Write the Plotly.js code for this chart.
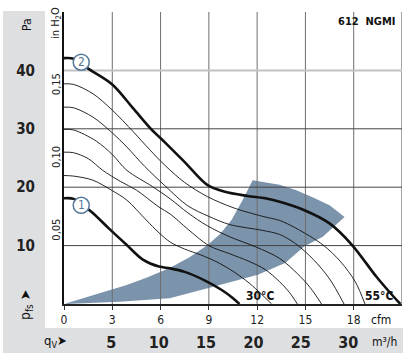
<!DOCTYPE html>
<html><head><meta charset="utf-8">
<script src="https://cdn.plot.ly/plotly-3.0.1.min.js"></script>
<style>html,body{margin:0;padding:0;background:#fff}#chart{width:415px;height:364px}</style>
</head><body><div id="chart"></div>
<script>
// ---- axis ticks / labels ----
const cfmTicks = [0, 3, 6, 9, 12, 15, 18];
const cfmTickLabels = ['0', '3', '6', '9', '12', '15', '18'];
const m3hTicks = [5, 10, 15, 20, 25, 30];
const m3hTickLabels = ['5', '10', '15', '20', '25', '30'];
const paTicks = [10, 20, 30, 40];
const paTickLabels = ['10', '20', '30', '40'];
const inh2oTicks = [0.05, 0.10, 0.15];
const inh2oTickLabels = ['0,05', '0,10', '0,15'];
const gridCfm = [3, 6, 9, 12, 15, 18];
const gridPaDark = [10, 20, 30];
const gridPaLight = [40];
const CFM_TO_M3H = 1.69901;
const PA_PER_INH2O = 249.089;
const xMax = 21, yMax = 50;

// ---- characteristic curves (cfm, Pa) ----
const curve2X = [0, 0.6, 1.5, 3.0, 4.3, 5.4, 6.3, 7.5, 8.9, 10.0, 11.4, 12.5, 13.4, 14.9, 16.5, 17.9, 19.4, 20.3, 20.9];
const curve2Y = [42.1, 42.0, 40.3, 37.6, 33.5, 30.0, 27.6, 24.3, 20.4, 19.2, 18.5, 18.1, 17.5, 16.1, 13.8, 10.1, 4.7, 1.8, 0];
const curve1X = [0, 0.6, 1.7, 2.8, 3.9, 4.9, 5.9, 6.6, 7.5, 8.7, 9.8, 10.5, 10.9];
const curve1Y = [18.1, 18.0, 15.8, 12.9, 10.1, 7.6, 6.4, 6.1, 5.5, 4.1, 2.4, 1.0, 0];
const thin5X = [0, 0.6, 1.8, 3.0, 4.3, 5.3, 6.25, 7.5, 8.9, 10.5, 12.35, 13.4, 14.4, 16.1, 17.2, 18.1, 18.7];
const thin5Y = [37.7, 37.6, 36.0, 33.2, 29.5, 26.5, 23.8, 20.8, 18.4, 16.5, 15.0, 14.3, 13.0, 10.1, 7.2, 3.8, 0];
const thin4X = [0, 0.6, 1.8, 3.0, 3.9, 5.0, 6.25, 7.7, 9.0, 10.3, 12.35, 13.4, 14.4, 15.5, 16.5, 17.4];
const thin4Y = [33.7, 33.6, 32.0, 29.3, 26.9, 23.6, 20.3, 16.8, 15.0, 13.6, 12.6, 11.9, 10.3, 7.6, 4.3, 0];
const thin3X = [0, 0.6, 2.0, 3.0, 3.9, 5.5, 6.6, 7.7, 8.9, 10.3, 11.9, 13.4, 14.5, 15.3, 16.0];
const thin3Y = [29.9, 29.8, 27.9, 25.6, 22.9, 20.1, 18.0, 15.6, 13.4, 11.5, 9.8, 7.8, 5.2, 2.8, 0];
const thin2X = [0, 0.6, 1.5, 2.4, 3.5, 4.5, 5.9, 6.6, 7.7, 9.0, 10.3, 11.5, 12.5, 13.4, 14.0, 14.5];
const thin2Y = [26.0, 25.9, 24.9, 22.9, 21.0, 19.5, 16.6, 15.4, 12.8, 10.0, 8.6, 7.3, 5.9, 3.8, 2.0, 0];
const thin1X = [0, 0.6, 1.8, 3.0, 3.9, 5.1, 5.9, 6.6, 7.5, 8.5, 9.5, 10.5, 11.5, 12.3, 12.9];
const thin1Y = [22.0, 21.9, 21.2, 19.4, 17.8, 14.4, 12.2, 10.6, 9.4, 8.4, 7.2, 5.6, 3.6, 1.6, 0];

// ---- operating range (shaded area) ----
const shadeX = [0, 1.8, 3.9, 5.2, 6.56, 7.8, 8.92, 9.7, 10.41, 11.1, 11.72, 13.39, 14.4, 15.44, 16.5, 17.43, 16.5, 16.08, 14.94, 13.74, 12.04, 10.5, 8.92, 6.56, 3.45, 0];
const shadeY = [0, 1.54, 3.25, 4.6, 6.15, 8.0, 10.1, 12.0, 14.4, 17.8, 21.2, 20.4, 19.5, 18.3, 16.9, 14.9, 12.6, 11.5, 9.9, 7.0, 5.0, 3.8, 2.7, 1.0, 0.4, 0];

const labelCurve = [{n: '2', x: 1.07, y: 41.4}, {n: '1', x: 1.07, y: 16.9}];
const tempLabels = [{t: '30°C', x: 12.2, y: 1.4}, {t: '55°C', x: 19.55, y: 1.4}];

const FONT = '"Liberation Sans Narrow", "DejaVu Sans Condensed", "Arial Narrow", sans-serif';
const px2x = p => (p - 64) / 338;
const py2y = p => (353 - p) / 341;

function gridTrace(vals, vertical, color, width) {
  const xs = [], ys = [];
  vals.forEach(v => {
    if (vertical) { xs.push(v, v, null); ys.push(0, yMax, null); }
    else { xs.push(0, xMax, null); ys.push(v, v, null); }
  });
  return {x: xs, y: ys, mode: 'lines', line: {color: color, width: width}, hoverinfo: 'skip', showlegend: false};
}
function curve(x, y, w) {
  return {x: x, y: y, mode: 'lines', line: {color: '#111', width: w, shape: 'spline', smoothing: 0.9}, hoverinfo: 'skip', showlegend: false};
}

const traces = [
  {x: shadeX, y: shadeY, mode: 'lines', fill: 'toself', fillcolor: '#7b93ab', line: {width: 0, color: '#7b93ab'}, hoverinfo: 'skip', showlegend: false},
  gridTrace(gridCfm, true, '#6e6e6e', 1),
  gridTrace([xMax], true, '#8a8a8a', 1.5),
  gridTrace(gridPaDark, false, '#444', 1),
  gridTrace(gridPaLight, false, '#c2c2c2', 2),
  curve(thin1X, thin1Y, 0.9), curve(thin2X, thin2Y, 0.9), curve(thin3X, thin3Y, 0.9),
  curve(thin4X, thin4Y, 0.9), curve(thin5X, thin5Y, 0.9),
  curve(curve1X, curve1Y, 2.6), curve(curve2X, curve2Y, 2.6),
  {x: [], y: [], xaxis: 'x2', yaxis: 'y2', mode: 'lines', hoverinfo: 'skip', showlegend: false}
];

const shapes = [
  {type: 'rect', xref: 'paper', yref: 'paper', x0: px2x(3), x1: px2x(45), y0: 0, y1: py2y(11), fillcolor: '#dedfe1', line: {width: 0}, layer: 'below'},
  {type: 'rect', xref: 'paper', yref: 'paper', x0: px2x(3), x1: px2x(403), y0: 0, y1: py2y(328), fillcolor: '#dedfe1', line: {width: 0}, layer: 'below'}
];
labelCurve.forEach(l => shapes.push({type: 'circle', xref: 'x', yref: 'y', xsizemode: 'pixel', ysizemode: 'pixel', xanchor: l.x, yanchor: l.y, x0: -8, x1: 8, y0: -8, y1: 8, fillcolor: '#fff', line: {color: '#56789a', width: 1.5}}));

const annotations = [];
function ann(x, y, text, size, extra) {
  return Object.assign({x: x, y: y, xref: 'paper', yref: 'paper', text: text, showarrow: false, xanchor: 'center', yanchor: 'middle', font: {family: FONT, size: size, color: '#111'}}, extra || {});
}
labelCurve.forEach(l => annotations.push({x: l.x, y: l.y, xref: 'x', yref: 'y', xanchor: 'center', yanchor: 'middle', text: l.n, showarrow: false, font: {family: FONT, size: 12, color: '#56789a'}}));
tempLabels.forEach(l => annotations.push({x: l.x, y: l.y, xref: 'x', yref: 'y', xanchor: 'center', yanchor: 'middle', text: '<b>' + l.t + '</b>', showarrow: false, font: {family: FONT, size: 12, color: '#111'}}));
annotations.push(
  ann(px2x(366), py2y(22), '<b>612  NGMI</b>', 11),
  ann(px2x(27.5), py2y(24.5), 'Pa', 12, {textangle: -90}),
  ann(px2x(56), py2y(23), 'in H<sub>2</sub>O', 11, {textangle: -90}),
  ann(px2x(26), py2y(305), 'p<sub>fs</sub> ➤', 14, {textangle: -90}),
  ann(px2x(55), py2y(341), 'q<sub>V</sub>➤', 13),
  ann(px2x(381), py2y(320), 'cfm', 12),
  ann(px2x(384), py2y(342), 'm³/h', 12)
);

const layout = {
  width: 415, height: 364,
  margin: {l: 64, r: 13, t: 12, b: 11, pad: 0},
  paper_bgcolor: '#fff', plot_bgcolor: '#fff',
  showlegend: false,
  xaxis: {range: [0, xMax], domain: [0, 1], anchor: 'y', tickvals: cfmTicks, ticktext: cfmTickLabels, ticks: 'outside', ticklen: 4, tickcolor: '#333', showgrid: false, zeroline: false, showline: true, linecolor: '#222', linewidth: 1.5, tickfont: {family: FONT, size: 12, color: '#222'}, fixedrange: true},
  xaxis2: {range: [0, xMax * CFM_TO_M3H], overlaying: 'x', anchor: 'free', position: py2y(331), side: 'bottom', tickvals: m3hTicks, ticktext: m3hTickLabels, ticks: '', showgrid: false, zeroline: false, showline: false, tickfont: {family: FONT, size: 16, color: '#222', weight: 'bold'}, fixedrange: true},
  yaxis: {range: [0, yMax], domain: [py2y(304), 1], anchor: 'x', tickvals: paTicks, ticktext: paTickLabels, ticks: '', showgrid: false, zeroline: false, showline: true, linecolor: '#111', linewidth: 2, ticklabelstandoff: 24, tickfont: {family: FONT, size: 15, color: '#222', weight: 'bold'}, fixedrange: true},
  yaxis2: {range: [0, yMax / PA_PER_INH2O], overlaying: 'y', anchor: 'free', position: 0, side: 'left', tickvals: inh2oTicks, ticktext: inh2oTickLabels, tickangle: -90, ticks: '', ticklabelstandoff: 2, showgrid: false, zeroline: false, showline: false, tickfont: {family: FONT, size: 11, color: '#222'}, fixedrange: true},
  shapes: shapes,
  annotations: annotations
};
Plotly.newPlot('chart', traces, layout, {displayModeBar: false, staticPlot: true});
</script></body></html>
